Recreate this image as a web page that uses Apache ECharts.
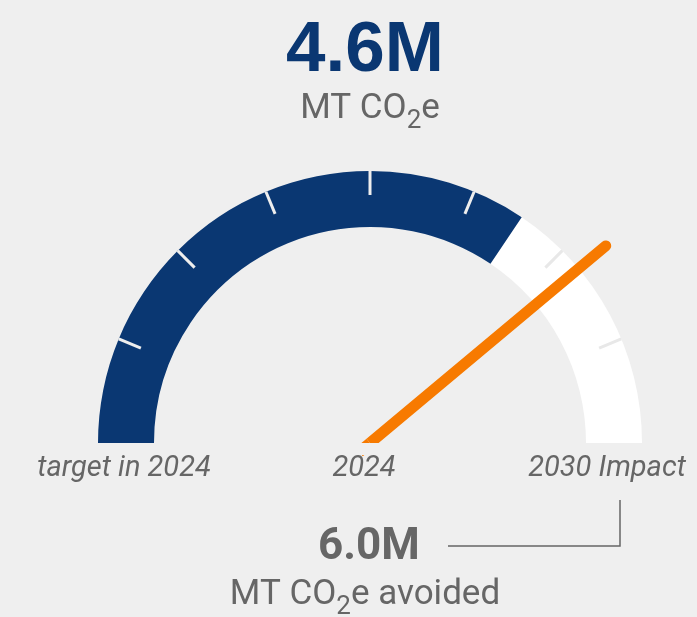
<!DOCTYPE html>
<html>
<head>
<meta charset="utf-8">
<style>
html,body{margin:0;padding:0;background:#efefef;}
#chart{width:697px;height:617px;}
</style>
<script src="https://cdn.jsdelivr.net/npm/echarts@6/dist/echarts.min.js"></script>
</head>
<body>
<div id="chart"></div>
<script>
// ---- data ----
const gaugeMin = 0;
const gaugeMax = 6.0;            // 2030 impact (M MT CO2e avoided)
const targetIn2024 = 4.13;       // blue filled arc
const actual2024 = 4.67;         // needle position
const headlineValue = '4.6M';
const headlineUnit = ['MT CO', '2', 'e'];
const impactValue = '6.0M';
const impactUnit = ['MT CO', '2', 'e avoided'];
const gaugeLabels = ['target in 2024', '2024', '2030 Impact'];

const BLUE = '#0a3772';
const ORANGE = '#f77a00';
const GRAY = '#666666';
const BG = '#efefef';
const HEAD_FONT = '"Liberation Sans", Arial, sans-serif';
const FONT = 'Roboto, "Liberation Sans", Arial, sans-serif';

const chart = echarts.init(document.getElementById('chart'), null, {renderer: 'canvas'});

const CX = 370, CY = 443, R = 272, W = 56;

const baseGauge = {
  type: 'gauge',
  center: [CX, CY],
  radius: R,
  min: gaugeMin,
  max: gaugeMax,
  axisTick: {show: false},
  axisLabel: {show: false},
  detail: {show: false},
  title: {show: false},
  anchor: {show: false},
  animation: false
};

const needleIcon = 'path://M0,313 L0,5.5 A5.5,5.5 0 0 1 11,5.5 L11,313 Z';

const option = {
  backgroundColor: BG,
  animation: false,
  series: [
    Object.assign({}, baseGauge, {
      startAngle: 180,
      endAngle: 0,
      z: 2,
      axisLine: {
        show: true,
        lineStyle: {
          width: W,
          color: [[targetIn2024 / gaugeMax, BLUE], [1, '#ffffff']]
        }
      },
      splitLine: {show: false},
      pointer: {
        show: true,
        icon: needleIcon,
        length: '115%',
        width: 11,
        itemStyle: {color: ORANGE}
      },
      data: [{value: actual2024}]
    }),
    // short tail of the needle below the centre (hidden under the baseline mask)
    Object.assign({}, baseGauge, {
      startAngle: 360,
      endAngle: 180,
      z: 2,
      axisLine: {show: false, lineStyle: {width: 0}},
      splitLine: {show: false},
      pointer: {show: true, icon: 'rect', length: 14, width: 11, itemStyle: {color: ORANGE}},
      data: [{value: actual2024}]
    }),
    // white ticks on the blue part
    Object.assign({}, baseGauge, {
      startAngle: 157.5,
      endAngle: 67.5,
      splitNumber: 4,
      z: 3,
      axisLine: {show: false, lineStyle: {width: W, color: [[1, 'rgba(0,0,0,0)']]}},
      splitLine: {show: true, distance: -W, length: 24, lineStyle: {color: '#eeeeee', width: 3, cap: 'butt'}},
      pointer: {show: false},
      data: []
    }),
    // light ticks on the white part
    Object.assign({}, baseGauge, {
      startAngle: 45,
      endAngle: 22.5,
      splitNumber: 1,
      z: 3,
      axisLine: {show: false, lineStyle: {width: W, color: [[1, 'rgba(0,0,0,0)']]}},
      splitLine: {show: true, distance: -W, length: 24, lineStyle: {color: '#e8e8e8', width: 3, cap: 'butt'}},
      pointer: {show: false},
      data: []
    })
  ],
  graphic: [
    // mask below the gauge baseline
    {
      type: 'rect', z: 100,
      shape: {x: CX - 40, y: CY, width: 80, height: 12},
      style: {fill: BG}
    },
    {
      type: 'text', x: 365, y: 51, z: 100,
      style: {text: headlineValue, font: 'bold 71px ' + HEAD_FONT, fill: BLUE, align: 'center', verticalAlign: 'middle'}
    },
    {
      type: 'text', x: 370, y: 109, z: 100,
      style: {
        text: '{a|' + headlineUnit[0] + '}{s|' + headlineUnit[1] + '}{a|' + headlineUnit[2] + '}',
        align: 'center', verticalAlign: 'middle',
        rich: {
          a: {font: '35px ' + FONT, fill: GRAY, lineHeight: 51, verticalAlign: 'middle'},
          s: {font: '26px ' + FONT, fill: GRAY, lineHeight: 20, verticalAlign: 'bottom'}
        }
      }
    },
    {
      type: 'text', x: 124, y: 469, z: 100,
      style: {text: gaugeLabels[0], font: 'italic 29px ' + FONT, fill: GRAY, align: 'center', verticalAlign: 'middle'}
    },
    {
      type: 'text', x: 364, y: 469, z: 100,
      style: {text: gaugeLabels[1], font: 'italic 29px ' + FONT, fill: GRAY, align: 'center', verticalAlign: 'middle'}
    },
    {
      type: 'text', x: 607, y: 469, z: 100,
      style: {text: gaugeLabels[2], font: 'italic 29px ' + FONT, fill: GRAY, align: 'center', verticalAlign: 'middle'}
    },
    {
      type: 'polyline', z: 100,
      shape: {points: [[620, 500], [620, 546], [448, 546]]},
      style: {stroke: GRAY, lineWidth: 1.5, fill: null}
    },
    {
      type: 'text', x: 369, y: 548, z: 100,
      style: {text: impactValue, font: 'bold 44px ' + FONT, fill: GRAY, align: 'center', verticalAlign: 'middle'}
    },
    {
      type: 'text', x: 365, y: 595, z: 100,
      style: {
        text: '{a|' + impactUnit[0] + '}{s|' + impactUnit[1] + '}{a|' + impactUnit[2] + '}',
        align: 'center', verticalAlign: 'middle',
        rich: {
          a: {font: '35px ' + FONT, fill: GRAY, lineHeight: 51, verticalAlign: 'middle'},
          s: {font: '26px ' + FONT, fill: GRAY, lineHeight: 20, verticalAlign: 'bottom'}
        }
      }
    }
  ]
};
chart.setOption(option);
</script>
</body>
</html>
